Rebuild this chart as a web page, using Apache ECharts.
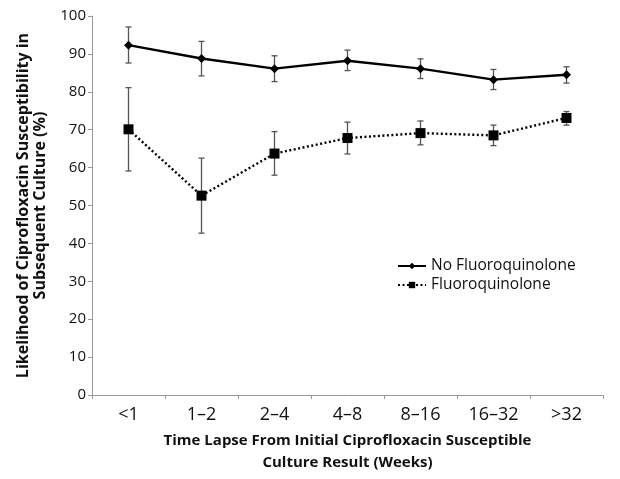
<!DOCTYPE html>
<html>
<head>
<meta charset="utf-8">
<script src="https://cdn.jsdelivr.net/npm/echarts@6/dist/echarts.min.js"></script>
<style>
  html, body { margin: 0; padding: 0; background: #fff; }
  #chart { width: 620px; height: 479px; }
</style>
</head>
<body>
<div id="chart"></div>
<script>
const categories = ['<1', '1\u20132', '2\u20134', '4\u20138', '8\u201316', '16\u201332', '>32']
const noFqValues = [92.3, 88.8, 86.1, 88.2, 86.1, 83.2, 84.5]
const noFqLow = [87.6, 84.2, 82.7, 85.6, 83.5, 80.6, 82.3]
const noFqHigh = [97.1, 93.3, 89.5, 91.0, 88.7, 85.9, 86.6]
const fqValues = [70.1, 52.6, 63.7, 67.8, 69.1, 68.5, 73.1]
const fqLow = [59.1, 42.7, 58.0, 63.6, 66.0, 65.8, 71.2]
const fqHigh = [81.1, 62.5, 69.5, 72.0, 72.3, 71.2, 74.8]
const yTicks = [0, 10, 20, 30, 40, 50, 60, 70, 80, 90, 100]

const font = '"Open Sans", "DejaVu Sans", sans-serif'

function errorBars(low, high) {
  return {
    type: 'custom',
    silent: true,
    z: 1,
    data: categories.map((c, i) => [i, low[i], high[i]]),
    renderItem(params, api) {
      const lo = api.coord([api.value(0), api.value(1)])
      const hi = api.coord([api.value(0), api.value(2)])
      const cap = 3
      const style = { stroke: '#555', lineWidth: 1.3 }
      return {
        type: 'group',
        children: [
          { type: 'line', shape: { x1: hi[0], y1: hi[1], x2: lo[0], y2: lo[1] }, style },
          { type: 'line', shape: { x1: hi[0] - cap, y1: hi[1], x2: hi[0] + cap, y2: hi[1] }, style },
          { type: 'line', shape: { x1: lo[0] - cap, y1: lo[1], x2: lo[0] + cap, y2: lo[1] }, style }
        ]
      }
    }
  }
}

const chart = echarts.init(document.getElementById('chart'))
chart.setOption({
  animation: false,
  textStyle: { fontFamily: font },
  grid: { left: 92, right: 17, top: 16, bottom: 77 },
  legend: {
    left: 392,
    top: 253,
    orient: 'vertical',
    itemGap: 3,
    itemWidth: 28,
    itemHeight: 8,
    textStyle: { fontSize: 15.5, color: '#111', fontFamily: font },
    data: ['No Fluoroquinolone', 'Fluoroquinolone']
  },
  xAxis: {
    type: 'category',
    data: categories,
    boundaryGap: true,
    axisLine: { lineStyle: { color: '#999', width: 1 } },
    axisTick: { show: true, length: 4, lineStyle: { color: '#999' } },
    axisLabel: { fontSize: 18, color: '#111', margin: 11 },
    name: 'Time Lapse From Initial Ciprofloxacin Susceptible\nCulture Result (Weeks)',
    nameLocation: 'middle',
    nameGap: 35,
    nameTextStyle: { fontSize: 15, fontWeight: 'bold', color: '#111', lineHeight: 22, verticalAlign: 'top' }
  },
  yAxis: {
    type: 'value',
    min: yTicks[0],
    max: yTicks[yTicks.length - 1],
    interval: 10,
    splitLine: { show: false },
    axisLine: { show: true, lineStyle: { color: '#999', width: 1 } },
    axisTick: { show: true, length: 4, lineStyle: { color: '#999' } },
    axisLabel: { fontSize: 15, color: '#111', margin: 6 },
    name: 'Likelihood of Ciprofloxacin Susceptibility in\nSubsequent Culture (%)',
    nameLocation: 'middle',
    nameGap: 40,
    nameTextStyle: { fontSize: 16, fontWeight: 'bold', color: '#111', lineHeight: 17 }
  },
  series: [
    errorBars(noFqLow, noFqHigh),
    errorBars(fqLow, fqHigh),
    {
      name: 'No Fluoroquinolone',
      type: 'line',
      z: 3,
      data: noFqValues,
      symbol: 'diamond',
      symbolSize: 9,
      itemStyle: { color: '#000' },
      lineStyle: { color: '#000', width: 2.4 }
    },
    {
      name: 'Fluoroquinolone',
      type: 'line',
      z: 3,
      data: fqValues,
      symbol: 'rect',
      symbolSize: 10,
      itemStyle: { color: '#000' },
      lineStyle: { color: '#000', width: 2.4, type: [2, 2.5] }
    }
  ]
})
</script>
</body>
</html>
